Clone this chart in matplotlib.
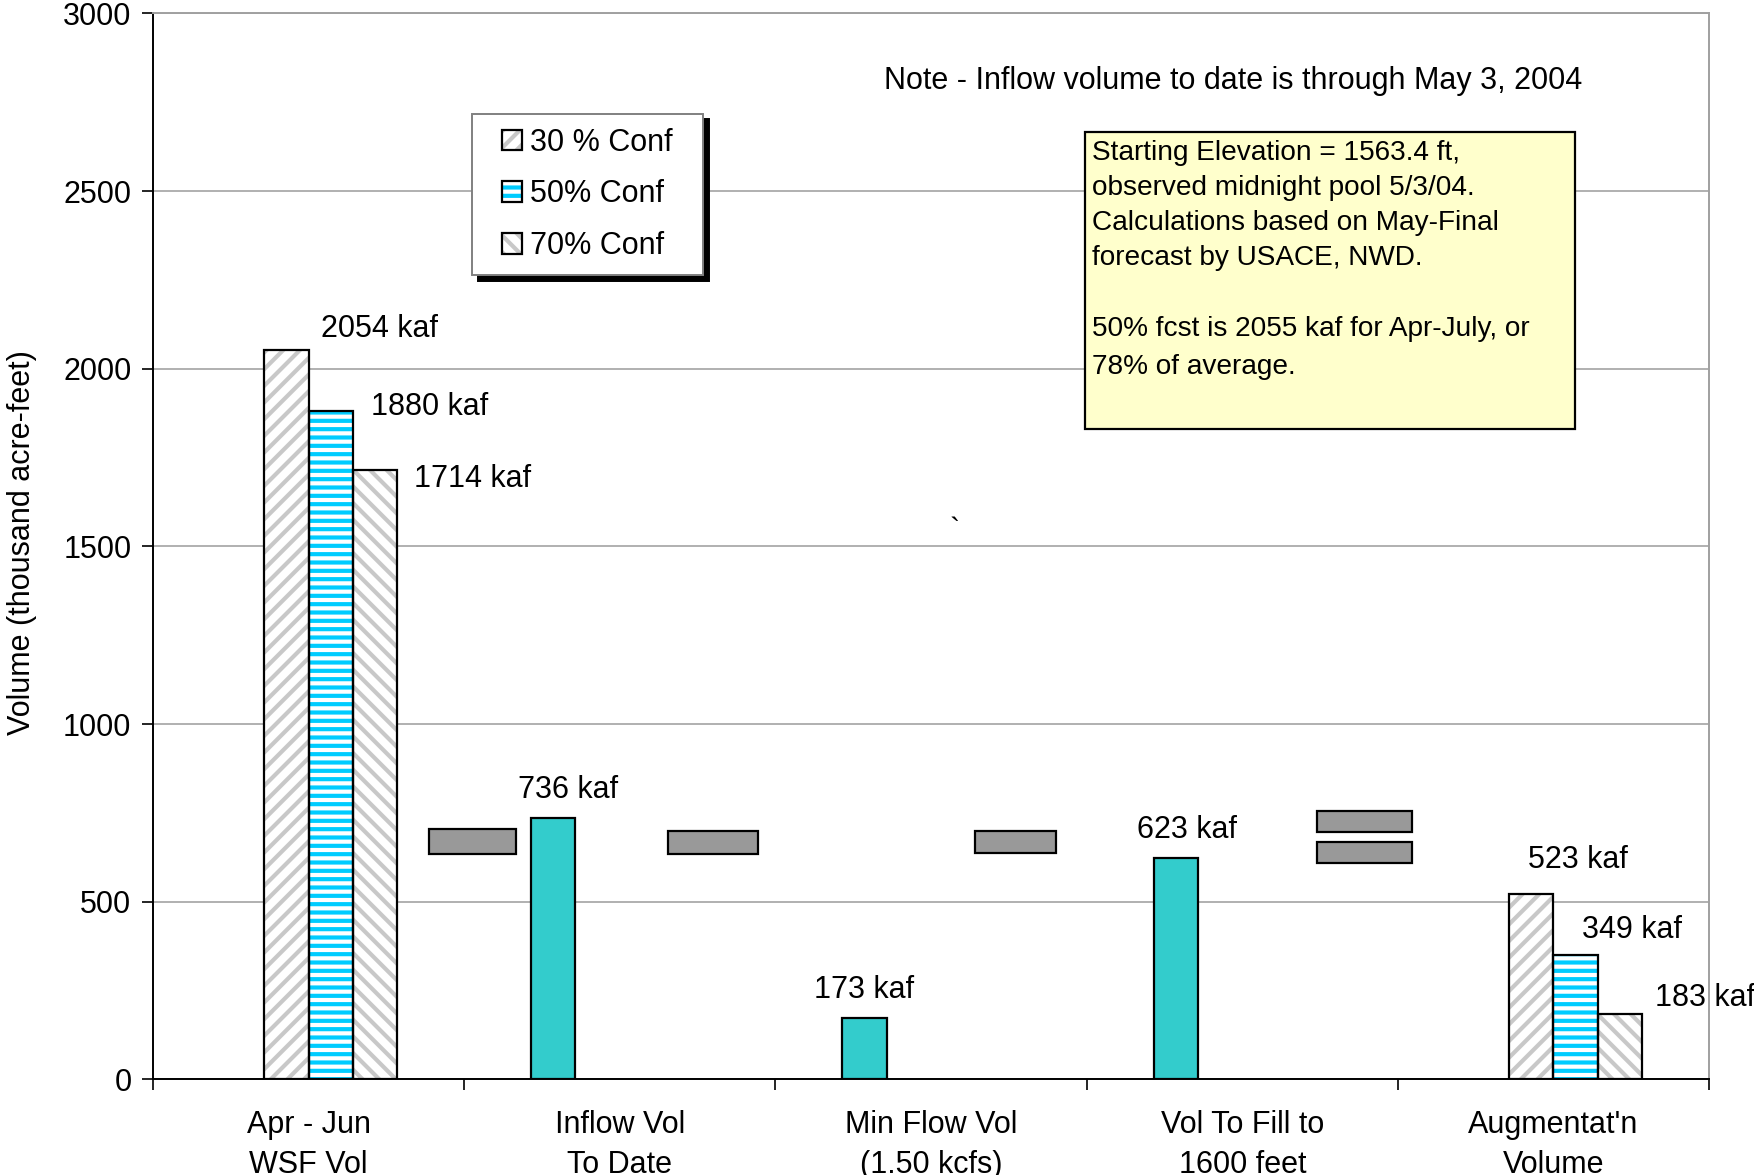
"""
plot.py

Rebuilds the reservoir volume bar chart (Apr-Jun forecast, inflow,
minimum flow, fill volume and augmentation volume).
"""

import numpy as np
import matplotlib.pyplot as plt
from matplotlib.patches import Patch, Rectangle
from matplotlib.legend_handler import HandlerTuple

plt.rcParams["font.family"] = ["Liberation Sans", "DejaVu Sans"]
plt.rcParams["hatch.linewidth"] = 3.0

# ---- data -----------------------------------------------------------------
categories = [
    "Apr - Jun\nWSF Vol",
    "Inflow Vol\nTo Date",
    "Min Flow Vol\n(1.50 kcfs)",
    "Vol To Fill to\n1600 feet",
    "Augmentat'n\nVolume",
]
conf30 = [2054, np.nan, np.nan, np.nan, 523]
conf50 = [1880, np.nan, np.nan, np.nan, 349]
conf70 = [1714, np.nan, np.nan, np.nan, 183]
volume = [np.nan, 736, 173, 623, np.nan]

# the grey "-", "-", "-", "=" signs drawn between the groups
op_centers = [0.527, 1.300, 2.270, 3.393, 3.393]
op_widths = [0.279, 0.290, 0.260, 0.306, 0.306]
op_lows = [635, 635, 636, 696, 609]
op_highs = [705, 699, 699, 756, 668]

note_top = "Note - Inflow volume to date is through May 3, 2004"
note_box_1 = (
    "Starting Elevation = 1563.4 ft,\n"
    "observed midnight pool 5/3/04.\n"
    "Calculations based on May-Final\n"
    "forecast by USACE, NWD."
)
note_box_2 = "50% fcst is 2055 kaf for Apr-July, or\n78% of average."

# ---- layout ---------------------------------------------------------------
FS = 22
W = 0.1425
x = np.arange(len(categories))

fig = plt.figure(figsize=(17.54, 11.75), dpi=100)
ax = fig.add_axes([0.0872, 0.0813, 0.8872, 0.9073])


def hatched_bars(xpos, vals, hatch, hcolor, face="white"):
    ax.bar(xpos, vals, W, color=face, edgecolor=hcolor, hatch=hatch,
           linewidth=0, zorder=3)
    ax.bar(xpos, vals, W, fill=False, edgecolor="black", linewidth=1.6,
           zorder=4)


hatched_bars(x - 0.5 * W, conf30, "//", "#c8c8c8")
hatched_bars(x + 0.5 * W, conf50, "--", "#00ccff")
hatched_bars(x + 1.5 * W, conf70, "\\\\", "#c8c8c8")
ax.bar(x - 1.5 * W, volume, W, color="#33cccc", edgecolor="black",
       linewidth=1.6, zorder=4)

# operator signs
ax.bar(op_centers, np.subtract(op_highs, op_lows), op_widths, bottom=op_lows,
       color="#999999", edgecolor="black", linewidth=1.6, zorder=4)


# value labels (placed by hand in the original)
def label(xc, val, dx, dy):
    ax.text(xc + dx, val + dy, f"{val:.0f} kaf", ha="center", va="center",
            fontsize=FS, zorder=5, clip_on=False)


label(x[0] - 0.5 * W, conf30[0], 0.298, 57)
label(x[0] + 0.5 * W, conf50[0], 0.317, 13)
label(x[0] + 1.5 * W, conf70[0], 0.312, -25)
label(x[4] - 0.5 * W, conf30[4], 0.149, 95)
label(x[4] + 0.5 * W, conf50[4], 0.180, 71)
label(x[4] + 1.5 * W, conf70[4], 0.272, 45)
for i, dx in zip([1, 2, 3], [0.047, 0.0, 0.036]):
    label(x[i] - 1.5 * W, volume[i], dx, 79)

# axes styling
ax.set_xlim(-0.5, len(categories) - 0.5)
ax.set_ylim(0, 3000)
ax.set_yticks(np.arange(0, 3001, 500))
ax.set_xticks(np.arange(-0.5, len(categories)), labels=[])
ax.set_xticks(x, labels=categories, minor=True)
ax.tick_params(axis="x", which="major", length=8, width=1.2, direction="out")
ax.tick_params(axis="x", which="minor", length=0, pad=22, labelsize=FS)
ax.tick_params(axis="y", length=8, width=1.2, pad=7.5, labelsize=FS)
ax.yaxis.grid(True, color="#b0b0b0", linewidth=1.4, zorder=0)
ax.set_axisbelow(True)
for side in ["top", "right"]:
    ax.spines[side].set_color("#a0a0a0")
    ax.spines[side].set_linewidth(1.4)
for side in ["left", "bottom"]:
    ax.spines[side].set_linewidth(1.4)
for lbl in ax.get_xticklabels(minor=True):
    lbl.set_linespacing(1.45)

ax.set_ylabel("Volume (thousand acre-feet)", fontsize=FS, va="center")
ax.yaxis.set_label_coords(-0.084, 0.504)

# legend
handles = [
    (Patch(facecolor="white", edgecolor="#c8c8c8", hatch="//", linewidth=0),
     Patch(fill=False, edgecolor="black", linewidth=1.6)),
    (Patch(facecolor="white", edgecolor="#00ccff", hatch="--", linewidth=0),
     Patch(fill=False, edgecolor="black", linewidth=1.6)),
    (Patch(facecolor="white", edgecolor="#c8c8c8", hatch="\\\\", linewidth=0),
     Patch(fill=False, edgecolor="black", linewidth=1.6)),
]
leg = ax.legend(handles, ["30 % Conf  ", "50% Conf", "70% Conf"],
                handler_map={tuple: HandlerTuple(ndivide=1, xpad=0.52)},
                loc="upper left", bbox_to_anchor=(0.205, 0.906),
                borderaxespad=0, fontsize=FS, fancybox=False,
                handlelength=1.17, handleheight=0.65, handletextpad=0.26,
                labelspacing=0.71, borderpad=0.46,
                shadow={"ox": 4, "oy": -4, "facecolor": "black",
                        "edgecolor": "black", "alpha": 1})
leg.get_frame().set_edgecolor("#808080")
leg.get_frame().set_linewidth(1.4)
leg.set_zorder(6)

# notes
ax.text(0.470, 0.937, note_top, transform=ax.transAxes, fontsize=FS,
        va="center", ha="left")
ax.add_patch(Rectangle((0.599, 0.6102), 0.315, 0.2786,
                       transform=ax.transAxes, facecolor="#ffffcc",
                       edgecolor="black", linewidth=1.6, zorder=6))
ax.text(0.6035, 0.881, note_box_1, transform=ax.transAxes, fontsize=20.2,
        va="top", ha="left", linespacing=1.44, zorder=7)
ax.text(0.6035, 0.7157, note_box_2, transform=ax.transAxes, fontsize=20.2,
        va="top", ha="left", linespacing=1.58, zorder=7)
ax.text(0.515, 0.514, "`", transform=ax.transAxes, fontsize=FS,
        va="center", ha="center")

fig.savefig("out.png", dpi=100)
